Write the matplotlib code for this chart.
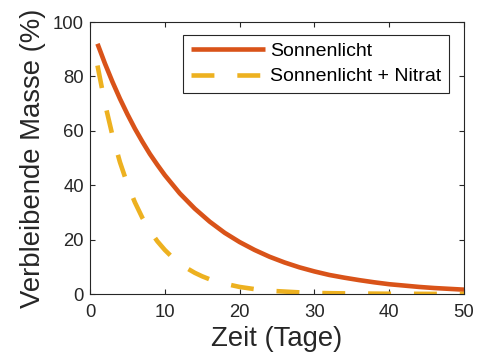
import matplotlib
matplotlib.use("Agg")
import matplotlib.pyplot as plt

# Remaining mass (%) over time (days)
days_sun = [1, 2, 3, 4, 5, 6, 7, 8, 9, 10, 12, 14, 16, 18, 20, 22, 24, 26,
            28, 30, 32, 34, 36, 38, 40, 42, 44, 46, 48, 50]
mass_sun = [92, 84.7, 78.0, 71.8, 66.1, 60.8, 56.0, 51.5, 47.5, 43.7, 37.0,
            31.4, 26.6, 22.5, 19.1, 16.2, 13.7, 11.6, 9.8, 8.3, 7.0, 6.0,
            5.1, 4.3, 3.6, 3.1, 2.6, 2.2, 1.9, 1.6]

days_nitrat = [1, 2, 3, 4, 5, 6, 7, 8, 9, 10, 11, 12, 13, 14, 15, 16, 17, 18,
               20, 22, 24, 26, 28, 30, 32, 35, 40, 45, 50]
mass_nitrat = [84, 70.0, 58.3, 48.5, 40.4, 33.7, 28.0, 23.3, 19.4, 16.2, 13.5,
               11.2, 9.4, 7.8, 6.5, 5.4, 4.5, 3.8, 2.6, 1.8, 1.2, 0.9, 0.6,
               0.4, 0.3, 0.2, 0.1, 0.05, 0.03]

labels = ["Sonnenlicht", "Sonnenlicht + Nitrat"]
xticks = [0, 10, 20, 30, 40, 50]
yticks = [0, 20, 40, 60, 80, 100]

plt.rcParams["font.family"] = ["Liberation Sans", "DejaVu Sans"]
plt.rcParams["lines.scale_dashes"] = False
axis_gray = "#262626"

fig = plt.figure(figsize=(4.9, 3.55), dpi=100)
ax = fig.add_axes([0.1837, 0.1718, 0.947 - 0.1837, 0.938 - 0.1718])

ax.plot(days_sun, mass_sun, color="#D95319", lw=3.3, label=labels[0],
        solid_capstyle="butt")
ax.plot(days_nitrat, mass_nitrat, color="#EDB120", lw=3.3, label=labels[1],
        dashes=(16.5, 16.5), dash_capstyle="butt")

ax.set_xlim(0, 50)
ax.set_ylim(0, 100)
ax.set_xticks(xticks)
ax.set_yticks(yticks)
ax.tick_params(direction="in", length=3.5, width=0.8, top=True, right=True,
               labelsize=13.3, colors=axis_gray)
ax.tick_params(axis="x", pad=7)
ax.tick_params(axis="y", pad=4.5)
for side in ax.spines.values():
    side.set_color(axis_gray)
    side.set_linewidth(0.8)

ax.set_xlabel("Zeit (Tage)", fontsize=19.8, color=axis_gray, labelpad=3.5)
ax.set_ylabel("Verbleibende Masse (%)", fontsize=19.8, color=axis_gray,
              labelpad=5)

leg = ax.legend(loc="upper right", bbox_to_anchor=(0.96, 0.952),
                borderaxespad=0, fontsize=14, handlelength=3.8,
                handletextpad=0.3, labelspacing=0.4, borderpad=0.38,
                fancybox=False, framealpha=1)
leg.get_frame().set_edgecolor(axis_gray)
leg.get_frame().set_linewidth(0.8)

fig.savefig("out.png", dpi=100)
